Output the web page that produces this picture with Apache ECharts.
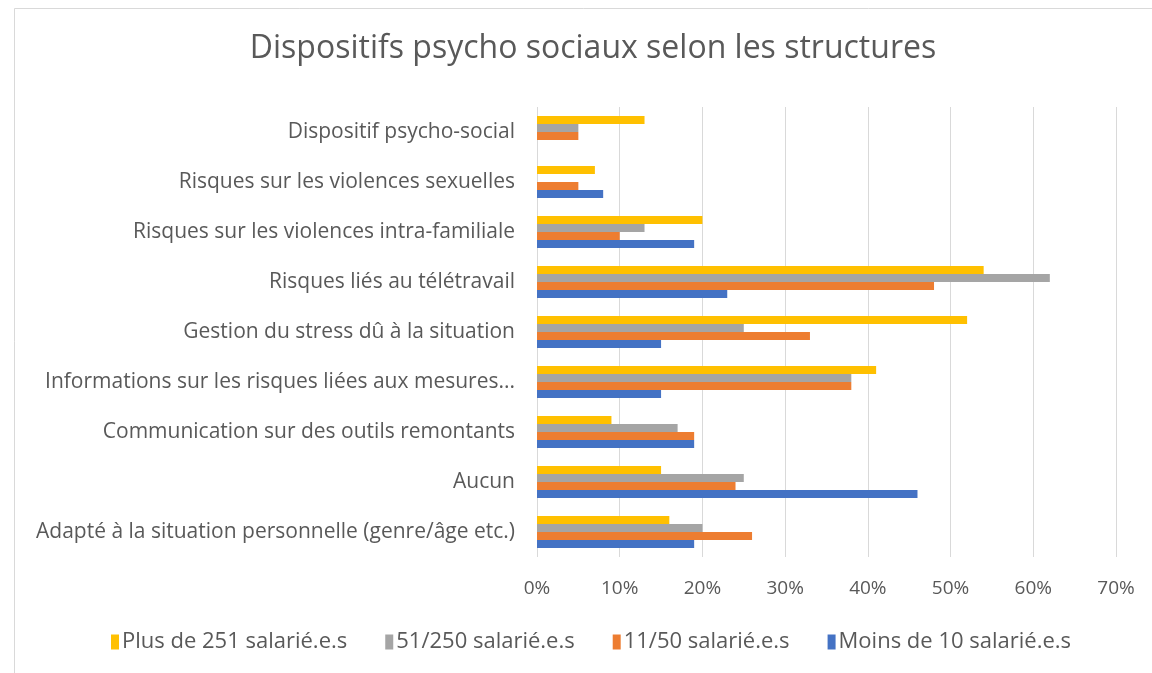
<!DOCTYPE html>
<html>
<head>
<meta charset="utf-8">
<script src="https://cdn.jsdelivr.net/npm/echarts@6/dist/echarts.min.js"></script>
<style>
  html, body { margin: 0; padding: 0; background: #fff; }
  #chart { width: 1152px; height: 673px; }
</style>
</head>
<body>
<div id="chart"></div>
<script>
// categories listed bottom to top (as on the y axis)
const categories = [
  "Adapté à la situation personnelle (genre/âge etc.)",
  "Aucun",
  "Communication sur des outils remontants",
  "Informations sur les risques liées aux mesures...",
  "Gestion du stress dû à la situation",
  "Risques liés au télétravail",
  "Risques sur les violences intra-familiale",
  "Risques sur les violences sexuelles",
  "Dispositif psycho-social"
];
const xTicks = ["0%", "10%", "20%", "30%", "40%", "50%", "60%", "70%"];

const plus251 = [16, 15, 9, 41, 52, 54, 20, 7, 13];
const s51_250 = [20, 25, 17, 38, 25, 62, 13, 0, 5];
const s11_50 = [26, 24, 19, 38, 33, 48, 10, 5, 5];
const moins10 = [19, 46, 19, 15, 15, 23, 19, 8, 0];

const font = "Open Sans";
const txt = "#595959";

const chart = echarts.init(document.getElementById("chart"));

function bar(name, data, color) {
  return {
    name: name,
    type: "bar",
    data: data,
    barWidth: 8,
    barGap: "0%",
    itemStyle: { color: color },
    emphasis: { disabled: true }
  };
}

const option = {
  backgroundColor: "#fff",
  animation: false,
  textStyle: { fontFamily: font },
  title: {
    text: "Dispositifs psycho sociaux selon les structures",
    left: 588,
    textAlign: "center",
    top: 28,
    textStyle: { fontFamily: font, fontSize: 32, fontWeight: "normal", color: txt }
  },
  graphic: [{
    type: "rect",
    shape: { x: 14.5, y: 8.5, width: 1160, height: 700 },
    style: { fill: null, stroke: "#d9d9d9", lineWidth: 1 },
    silent: true
  }],
  legend: {
    left: 106,
    top: 626,
    itemWidth: 8,
    itemHeight: 15,
    itemGap: 38,
    icon: "rect",
    textStyle: { fontFamily: font, fontSize: 22, color: txt, padding: [0, 0, 0, -2] },
    data: ["Plus de 251 salarié.e.s", "51/250 salarié.e.s", "11/50 salarié.e.s", "Moins de 10 salarié.e.s"]
  },
  grid: { left: 537, right: 36, top: 107, bottom: 116 },
  xAxis: {
    type: "value",
    min: 0,
    max: 70,
    interval: 10,
    axisLine: { show: false },
    axisTick: { show: false },
    splitLine: { lineStyle: { color: "#d9d9d9", width: 1 } },
    axisLabel: {
      margin: 22,
      fontFamily: font,
      fontSize: 19,
      color: txt,
      formatter: function (v) { return xTicks[Math.round(v / 10)]; }
    }
  },
  yAxis: {
    type: "category",
    data: categories,
    axisLine: { show: false },
    axisTick: { show: false },
    axisLabel: { margin: 22, fontFamily: font, fontSize: 21, color: txt, padding: [0, 0, 6, 0] }
  },
  series: [
    bar("Plus de 251 salarié.e.s", plus251, "#FFC000"),
    bar("51/250 salarié.e.s", s51_250, "#A5A5A5"),
    bar("11/50 salarié.e.s", s11_50, "#ED7D31"),
    bar("Moins de 10 salarié.e.s", moins10, "#4472C4")
  ]
};

chart.setOption(option);
</script>
</body>
</html>
